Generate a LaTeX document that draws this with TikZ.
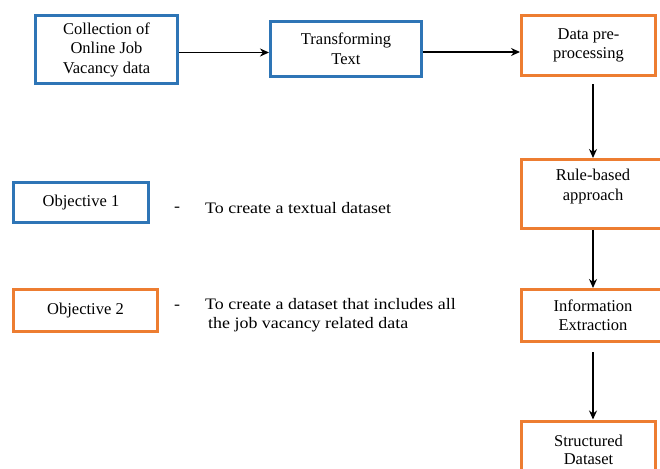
\documentclass[tikz,border=0pt]{standalone}
\usepackage{fontspec}
\setmainfont{Liberation Serif}
\newfontfamily\objfont{Liberation Serif}[FakeStretch=1.12]
\usetikzlibrary{arrows.meta}
\definecolor{boxblue}{HTML}{2E75B6}
\definecolor{boxorange}{HTML}{ED7D31}

\begin{document}
\begin{tikzpicture}[x=1pt,y=-1pt,
    stage/.style={draw,line width=3pt,align=center,inner sep=0pt,
      font=\fontsize{16.5}{19.5}\selectfont},
    bluebox/.style={stage,draw=boxblue},
    orangebox/.style={stage,draw=boxorange},
    objtext/.style={align=left,inner sep=0pt,font=\objfont\fontsize{16}{19}\selectfont},
    arr/.style={-{Stealth[length=9pt,width=8pt]},line width=1.6pt}]
        \useasboundingbox (0,0) rectangle (660,468);
        \node[bluebox,minimum width=142,minimum height=68] (coll) at (106.5,49.5) {Collection of\\Online Job\\Vacancy data};
        \node[bluebox,minimum width=151,minimum height=55] (trans) at (346,49) {Transforming\\Text};
        \node[orangebox,minimum width=134,minimum height=60] (dpp) at (588.5,45.5) {Data pre-\\processing};
        \node[orangebox,minimum width=143,minimum height=69] (rbased) at (593,194) {Rule-based\\approach\\[-1pt]};
        \node[orangebox,minimum width=143,minimum height=52] (info) at (593,315.5) {Information\\Extraction};
        \node[orangebox,minimum width=134,minimum height=57,font=\fontsize{16.5}{18}\selectfont] (struct) at (588.5,449.5) {Structured\\Dataset};
        \node[bluebox,minimum width=135,minimum height=40] (obj1) at (81,202.5) {Objective 1};
        \node[orangebox,minimum width=144,minimum height=42] (obj2) at (85.5,310.5) {Objective 2};
        \node[objtext] (dash1) at (177,209) {-};
        \node[objtext] (dash2) at (177,307) {-};
        \node[objtext,anchor=west] (txt1) at (205,208) {To create a textual dataset};
        \node[objtext,anchor=west] (txt2) at (205,315.5) {To create a dataset that includes all\\\hspace{3pt}the job vacancy related data};
        \draw[arr] ([yshift=-3pt]coll.east) -- ([yshift=-3pt]coll.east -| trans.west);
        \draw[arr] ([yshift=-3pt]trans.east) -- ([yshift=-3pt]trans.east -| dpp.west);
        \draw[arr] (dpp.south -| rbased.north) ++(0,7.5) -- (rbased.north);
        \draw[arr] (rbased.south) -- (info.north);
        \draw[arr] (info.south) ++(0,9) -- (info.south |- struct.north);
      \end{tikzpicture}
\end{document}
